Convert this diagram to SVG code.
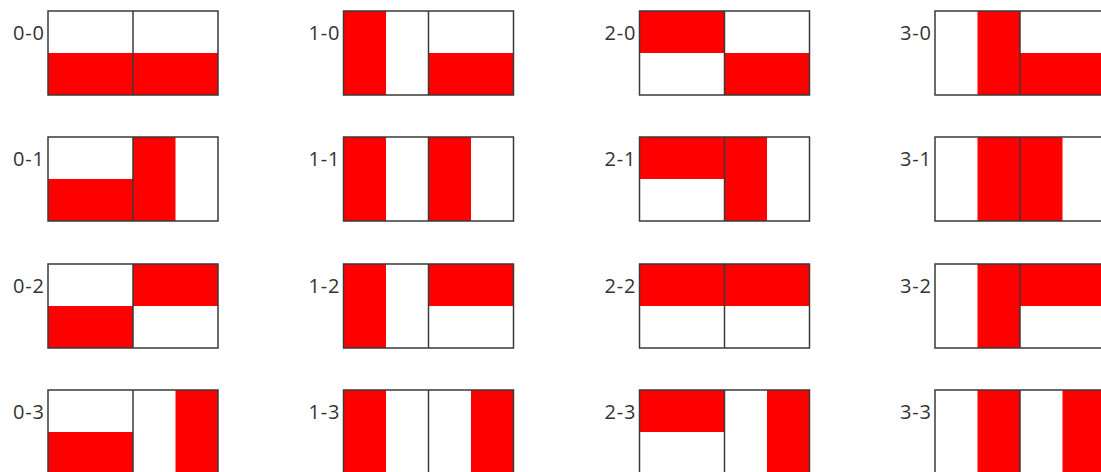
<svg xmlns="http://www.w3.org/2000/svg" width="1101" height="472" viewBox="0 0 1101 472">
<style>
.r{fill:#ff0000}
.o{fill:none;stroke:#3a3a3a;stroke-width:1.5}
.d{stroke:#3a3a3a;stroke-width:1.5}
.t{font-family:"Open Sans","Liberation Sans",sans-serif;font-size:20px;fill:#333;text-anchor:end}
</style>
<rect width="1101" height="472" fill="#fff"/>
<!-- row 0 -->
<g id="cell-0-0"><text class="t" x="44" y="40" textLength="31">0-0</text>
<rect class="r" x="48" y="53" width="85" height="42"/><rect class="r" x="133" y="53" width="85" height="42"/>
<rect class="o" x="48" y="11" width="170" height="84"/><line class="d" x1="133" y1="11" x2="133" y2="95"/></g>
<g id="cell-1-0"><text class="t" x="339.5" y="40" textLength="31">1-0</text>
<rect class="r" x="343.5" y="11" width="42.5" height="84"/><rect class="r" x="428.5" y="53" width="85" height="42"/>
<rect class="o" x="343.5" y="11" width="170" height="84"/><line class="d" x1="428.5" y1="11" x2="428.5" y2="95"/></g>
<g id="cell-2-0"><text class="t" x="635.5" y="40" textLength="31">2-0</text>
<rect class="r" x="639.5" y="11" width="85" height="42"/><rect class="r" x="724.5" y="53" width="85" height="42"/>
<rect class="o" x="639.5" y="11" width="170" height="84"/><line class="d" x1="724.5" y1="11" x2="724.5" y2="95"/></g>
<g id="cell-3-0"><text class="t" x="931" y="40" textLength="31">3-0</text>
<rect class="r" x="977.5" y="11" width="42.5" height="84"/><rect class="r" x="1020" y="53" width="85" height="42"/>
<rect class="o" x="935" y="11" width="170" height="84"/><line class="d" x1="1020" y1="11" x2="1020" y2="95"/></g>
<!-- row 1 -->
<g id="cell-0-1"><text class="t" x="44" y="166" textLength="31">0-1</text>
<rect class="r" x="48" y="179" width="85" height="42"/><rect class="r" x="133" y="137" width="42.5" height="84"/>
<rect class="o" x="48" y="137" width="170" height="84"/><line class="d" x1="133" y1="137" x2="133" y2="221"/></g>
<g id="cell-1-1"><text class="t" x="339.5" y="166" textLength="31">1-1</text>
<rect class="r" x="343.5" y="137" width="42.5" height="84"/><rect class="r" x="428.5" y="137" width="42.5" height="84"/>
<rect class="o" x="343.5" y="137" width="170" height="84"/><line class="d" x1="428.5" y1="137" x2="428.5" y2="221"/></g>
<g id="cell-2-1"><text class="t" x="635.5" y="166" textLength="31">2-1</text>
<rect class="r" x="639.5" y="137" width="85" height="42"/><rect class="r" x="724.5" y="137" width="42.5" height="84"/>
<rect class="o" x="639.5" y="137" width="170" height="84"/><line class="d" x1="724.5" y1="137" x2="724.5" y2="221"/></g>
<g id="cell-3-1"><text class="t" x="931" y="166" textLength="31">3-1</text>
<rect class="r" x="977.5" y="137" width="42.5" height="84"/><rect class="r" x="1020" y="137" width="42.5" height="84"/>
<rect class="o" x="935" y="137" width="170" height="84"/><line class="d" x1="1020" y1="137" x2="1020" y2="221"/></g>
<!-- row 2 -->
<g id="cell-0-2"><text class="t" x="44" y="293" textLength="31">0-2</text>
<rect class="r" x="48" y="306" width="85" height="42"/><rect class="r" x="133" y="264" width="85" height="42"/>
<rect class="o" x="48" y="264" width="170" height="84"/><line class="d" x1="133" y1="264" x2="133" y2="348"/></g>
<g id="cell-1-2"><text class="t" x="339.5" y="293" textLength="31">1-2</text>
<rect class="r" x="343.5" y="264" width="42.5" height="84"/><rect class="r" x="428.5" y="264" width="85" height="42"/>
<rect class="o" x="343.5" y="264" width="170" height="84"/><line class="d" x1="428.5" y1="264" x2="428.5" y2="348"/></g>
<g id="cell-2-2"><text class="t" x="635.5" y="293" textLength="31">2-2</text>
<rect class="r" x="639.5" y="264" width="85" height="42"/><rect class="r" x="724.5" y="264" width="85" height="42"/>
<rect class="o" x="639.5" y="264" width="170" height="84"/><line class="d" x1="724.5" y1="264" x2="724.5" y2="348"/></g>
<g id="cell-3-2"><text class="t" x="931" y="293" textLength="31">3-2</text>
<rect class="r" x="977.5" y="264" width="42.5" height="84"/><rect class="r" x="1020" y="264" width="85" height="42"/>
<rect class="o" x="935" y="264" width="170" height="84"/><line class="d" x1="1020" y1="264" x2="1020" y2="348"/></g>
<!-- row 3 -->
<g id="cell-0-3"><text class="t" x="44" y="419" textLength="31">0-3</text>
<rect class="r" x="48" y="432" width="85" height="42"/><rect class="r" x="175.5" y="390" width="42.5" height="84"/>
<rect class="o" x="48" y="390" width="170" height="84"/><line class="d" x1="133" y1="390" x2="133" y2="474"/></g>
<g id="cell-1-3"><text class="t" x="339.5" y="419" textLength="31">1-3</text>
<rect class="r" x="343.5" y="390" width="42.5" height="84"/><rect class="r" x="471" y="390" width="42.5" height="84"/>
<rect class="o" x="343.5" y="390" width="170" height="84"/><line class="d" x1="428.5" y1="390" x2="428.5" y2="474"/></g>
<g id="cell-2-3"><text class="t" x="635.5" y="419" textLength="31">2-3</text>
<rect class="r" x="639.5" y="390" width="85" height="42"/><rect class="r" x="767" y="390" width="42.5" height="84"/>
<rect class="o" x="639.5" y="390" width="170" height="84"/><line class="d" x1="724.5" y1="390" x2="724.5" y2="474"/></g>
<g id="cell-3-3"><text class="t" x="931" y="419" textLength="31">3-3</text>
<rect class="r" x="977.5" y="390" width="42.5" height="84"/><rect class="r" x="1062.5" y="390" width="42.5" height="84"/>
<rect class="o" x="935" y="390" width="170" height="84"/><line class="d" x1="1020" y1="390" x2="1020" y2="474"/></g>
<g id="connectors"></g>
</svg>
